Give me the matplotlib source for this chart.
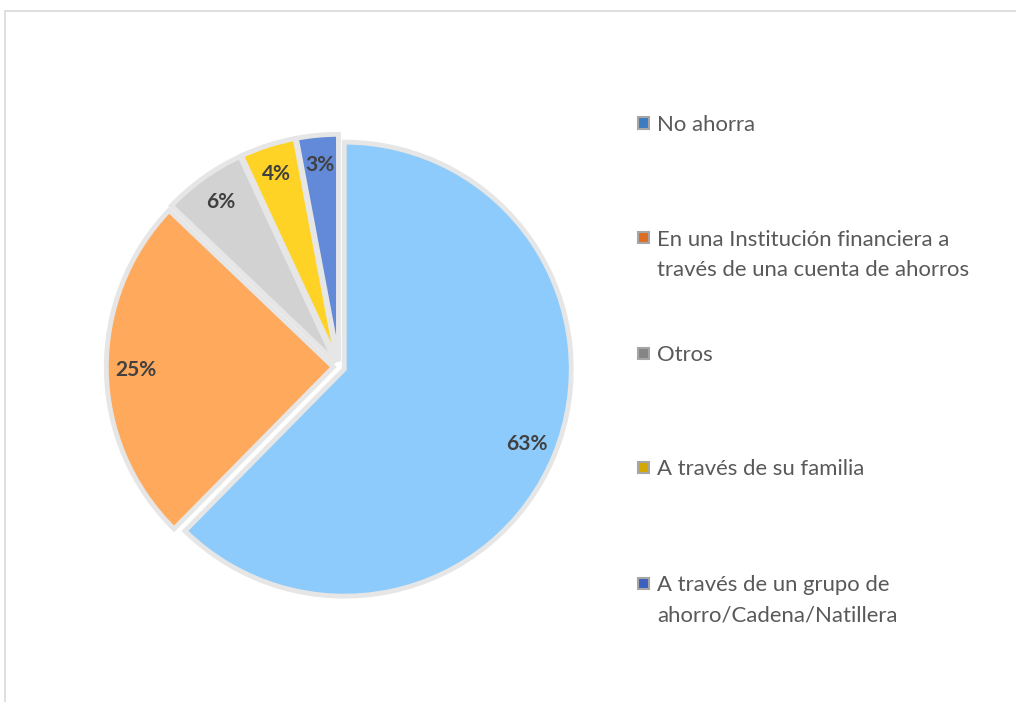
import matplotlib
matplotlib.use("Agg")
import matplotlib.pyplot as plt
from matplotlib.patches import Rectangle

categories = ["No ahorra",
              "En una Institución financiera a\ntravés de una cuenta de ahorros",
              "Otros",
              "A través de su familia",
              "A través de un grupo de\nahorro/Cadena/Natillera"]
values = [63, 25, 6, 4, 3]
pct_labels = ["63%", "25%", "6%", "4%", "3%"]

pie_colors = ["#8CCBFB", "#FFA95C", "#D2D2D2", "#FFD326", "#628AD8"]
marker_colors = ["#3E7CC2", "#DD6E22", "#858585", "#D3A800", "#3C60C0"]

W, H = 1016, 702
fig = plt.figure(figsize=(W / 100, H / 100), dpi=100)
fig.patch.set_facecolor("white")

# light frame (top and left edges visible)
fig.patches.append(Rectangle((5 / W, -0.05), 1.2, (H - 11) / H + 0.05,
                             transform=fig.transFigure, fill=False,
                             edgecolor="#D9D9D9", linewidth=1.2))

cx, cy, r = 339, 367, 227
side = 2.5 * r
ax = fig.add_axes([(cx - side / 2) / W, (H - cy - side / 2) / H, side / W, side / H])

wedges, texts, autotexts = ax.pie(
    values, colors=pie_colors, startangle=90, counterclock=False,
    explode=[0.025] * len(values), labels=None,
    autopct=lambda p: "", pctdistance=0.87,
    wedgeprops=dict(edgecolor="#E6E6E6", linewidth=3.5))
for t, lab in zip(autotexts, pct_labels):
    t.set_text(lab)
    t.set_fontsize(15)
    t.set_fontweight("bold")
    t.set_color("#404040")
    t.set_fontfamily("Lato")
ax.set_xlim(-1.25, 1.25)
ax.set_ylim(-1.25, 1.25)
ax.set_aspect("equal")

# legend, manually placed entries
lx, tx = 643, 657
tops = [123, 238, 353, 467, 583]
line_gap = 30
for cat, mc, y in zip(categories, marker_colors, tops):
    s = 11
    fig.patches.append(Rectangle(((lx - s / 2) / W, (H - y - s / 2) / H), s / W, s / H,
                                 transform=fig.transFigure, facecolor=mc,
                                 edgecolor="#A6A6A6", linewidth=1.5))
    for i, line in enumerate(cat.split("\n")):
        fig.text(tx / W, (H - y - i * line_gap) / H, line, fontsize=15.9,
                 fontfamily="Lato", color="#595959", va="center_baseline",
                 ha="left", transform=fig.transFigure)

fig.savefig("out.png", dpi=100)
